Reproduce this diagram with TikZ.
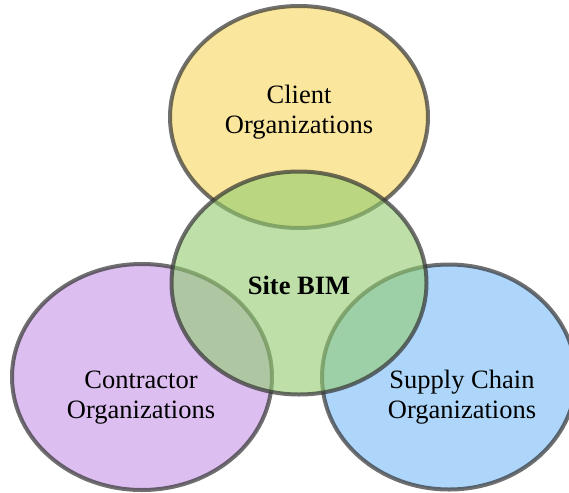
\documentclass[tikz,border=0pt]{standalone}
\usepackage{fontspec}
\setmainfont{Liberation Serif}
\usetikzlibrary{shapes.geometric}
\definecolor{cyel}{RGB}{247,213,90}
\definecolor{cgrn}{RGB}{146,204,110}
\definecolor{cpur}{RGB}{197,147,230}
\definecolor{cblu}{RGB}{118,187,247}
\tikzset{
  venn/.style={ellipse, inner sep=0pt, draw=black!80, draw opacity=0.7, line width=4pt, fill opacity=0.6},
  lbl/.style={align=center, font=\fontsize{26.5}{30}\selectfont, text=black, inner sep=0pt}
}
\begin{document}
\begin{tikzpicture}[x=1pt,y=-1pt]
\useasboundingbox (0,0) rectangle (569,492);
\clip (0,0) rectangle (569,492);
\node[venn, fill=cyel, minimum width=258pt, minimum height=222pt] (client) at (299,117) {};
\node[venn, fill=cpur, minimum width=260pt, minimum height=226pt] (contr) at (142,377) {};
\node[venn, fill=cblu, minimum width=254pt, minimum height=225pt] (supply) at (449,377) {};
\node[venn, fill=cgrn, minimum width=255pt, minimum height=223pt] (bim) at (299,283) {};
\node[lbl] (tclient) at (299,112) {Client\\Organizations};
\node[lbl, font=\fontsize{26.5}{30}\selectfont\bfseries] (tbim) at (299,285) {Site BIM};
\node[lbl] (tcontr) at (141,398) {Contractor\\Organizations};
\node[lbl] (tsupply) at (462,397) {Supply Chain\\Organizations};
\end{tikzpicture}
\end{document}
